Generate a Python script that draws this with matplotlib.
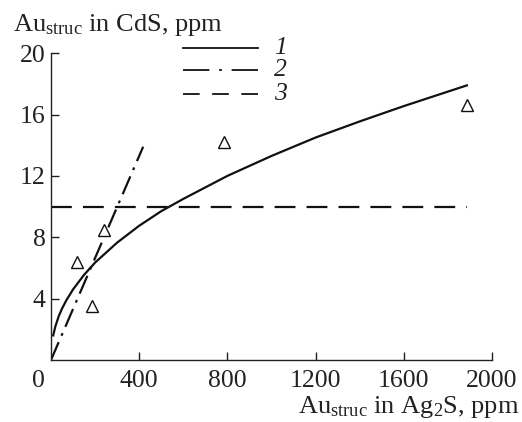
import numpy as np
import matplotlib
matplotlib.use("Agg")
import matplotlib.pyplot as plt
import matplotlib.transforms as mtransforms

plt.rcParams['font.family'] = ['Liberation Serif', 'DejaVu Serif']
plt.rcParams['mathtext.fontset'] = 'custom'
plt.rcParams['mathtext.rm'] = 'Liberation Serif'
plt.rcParams['mathtext.it'] = 'Liberation Serif:italic'
plt.rcParams['lines.scale_dashes'] = False

# curve 1 (solid)
x1 = [10, 20, 35, 50, 70, 100, 150, 200, 300, 400, 500, 600, 800, 1000, 1200, 1400, 1600, 1886]
y1 = [1.6, 2.2, 2.85, 3.35, 3.9, 4.6, 5.55, 6.35, 7.65, 8.75, 9.7, 10.5, 12.0, 13.3, 14.5, 15.55, 16.55, 17.9]
# line 2 (dash-dot)
x2 = [0, 418]
y2 = [0, 13.9]
# line 3 (dashed)
x3 = [0, 1886]
y3 = [10, 10]
# measured points
xp = [118, 186, 241, 786, 1886]
yp = [6.4, 3.5, 8.45, 14.2, 16.6]

xticks = [0, 400, 800, 1200, 1600, 2000]
yticks = [4, 8, 12, 16, 20]

fig = plt.figure(figsize=(5.22, 4.22), dpi=100)
ax = fig.add_axes([0.0977, 0.147, 0.8448, 0.727])

ax.plot(x1, y1, color='#111111', lw=1.6)
ax.plot(x2, y2, color='#111111', lw=1.6, linestyle=(0, (14, 5, 2, 5)))
ax.plot(x3, y3, color='#111111', lw=1.6, linestyle=(0, (15, 8)))
ax.plot(xp, yp, linestyle='none', marker='^', ms=8, mfc='white',
        mec='#111111', mew=1.0)

ax.set_xlim(0, 2000)
ax.set_ylim(0, 20)
ax.set_xticks(xticks)
ax.set_yticks(yticks)
ax.spines['top'].set_visible(False)
ax.spines['right'].set_visible(False)
for s in ['left', 'bottom']:
    ax.spines[s].set_linewidth(1.0)
    ax.spines[s].set_color('#222222')
ax.tick_params(direction='in', length=6, width=1.0, labelsize=18.5,
               colors='#222222')
ax.tick_params(axis='x', pad=7)
ax.tick_params(axis='y', pad=4)
# shift the "0" label a bit left like the original
lab0 = ax.get_xticklabels()[0]
lab0.set_transform(lab0.get_transform() +
                   mtransforms.ScaledTranslation(-13 / 100, 0, fig.dpi_scale_trans))
ax.xaxis.get_major_ticks()[0].tick1line.set_visible(False)

# legend drawn by hand
leg_styles = ['-', (0, (19, 7, 2, 7)), (0, (12, 9))]
leg_labels = ['1', '2', '3']
leg_y = [1 - 48 / 422, 1 - 70 / 422, 1 - 94 / 422]
for st, lb, yy in zip(leg_styles, leg_labels, leg_y):
    fig.add_artist(plt.Line2D([183 / 522, 258 / 522], [yy, yy], color='#111111',
                              lw=1.3, linestyle=st))
    fig.text(274 / 522, yy, lb, fontsize=18.5, style='italic', va='center',
             ha='left', color='#222222')

fig.text(13 / 522, 1 - 31 / 422, r'Au$_{\rm struc}$ in CdS, ppm', fontsize=19,
         ha='left', va='baseline', color='#222222')
fig.text(519 / 522, 1 - 413 / 422, r'Au$_{\rm struc}$ in Ag$_2$S, ppm', fontsize=19,
         ha='right', va='baseline', color='#222222')

fig.savefig('out.png', dpi=100)
